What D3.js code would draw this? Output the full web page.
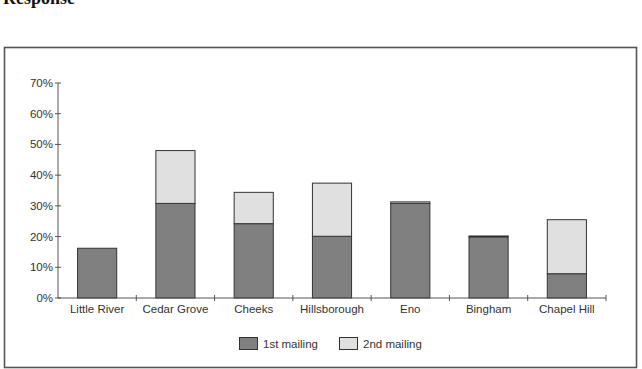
<!DOCTYPE html>
<html><head><meta charset="utf-8">
<script src="https://cdn.jsdelivr.net/npm/d3@7"></script>
<style>body{margin:0;background:#fff;}svg{display:block;}</style>
</head><body>
<script>
const categories = ["Little River","Cedar Grove","Cheeks","Hillsborough","Eno","Bingham","Chapel Hill"];
const firstMailing = [0.162, 0.308, 0.242, 0.201, 0.308, 0.199, 0.079];
const secondMailing = [0.0, 0.172, 0.102, 0.173, 0.005, 0.003, 0.176];
const seriesNames = ["1st mailing","2nd mailing"];
const yTicks = [0,0.1,0.2,0.3,0.4,0.5,0.6,0.7];

const W=642,H=369;
const svg=d3.select("body").append("svg").attr("width",W).attr("height",H);
const font="'Liberation Sans', Arial, sans-serif";
const colors=["#808080","#e0e0e0"];

svg.append("text").attr("x",3).attr("y",4).attr("font-family","'Liberation Serif', 'Times New Roman', serif")
  .attr("font-weight","bold").attr("font-size",18).attr("fill","#111").text("Response");

svg.append("rect").attr("x",4.5).attr("y",47.5).attr("width",632).attr("height",320)
  .attr("fill","none").attr("stroke","#555").attr("stroke-width",1.6);

const x=d3.scaleBand().domain(categories).range([58,606]).paddingInner(0.5).paddingOuter(0.25);
const y=d3.scaleLinear().domain([0,0.7]).range([298,83]);

const data=categories.map((c,i)=>({c,a:firstMailing[i],b:secondMailing[i]}));
const stack=d3.stack().keys(["a","b"])(data);

stack.forEach((layer,li)=>{
  svg.append("g").selectAll("rect").data(layer).join("rect")
    .attr("x",d=>x(d.data.c)).attr("width",x.bandwidth())
    .attr("y",d=>y(d[1])).attr("height",d=>Math.max(0,y(d[0])-y(d[1])))
    .attr("fill",colors[li]).attr("stroke","#333").attr("stroke-width",1);
});

// y axis
const yg=svg.append("g").attr("transform","translate(58,0)");
yg.append("line").attr("x1",0).attr("x2",0).attr("y1",y(0)).attr("y2",y(0.7)).attr("stroke","#555");
yTicks.forEach(t=>{
  yg.append("line").attr("x1",-3).attr("x2",3).attr("y1",y(t)).attr("y2",y(t)).attr("stroke","#555");
  yg.append("text").attr("x",-5).attr("y",y(t)).attr("dy","0.35em").attr("text-anchor","end")
    .attr("font-family",font).attr("font-size",11.5).attr("fill","#333").text(d3.format(".0%")(t));
});

// x axis
const xg=svg.append("g");
const step=x.step();
xg.append("line").attr("x1",58).attr("x2",606).attr("y1",y(0)).attr("y2",y(0)).attr("stroke","#555");
categories.forEach((c,i)=>{
  const bx=x(c)-step*0.25+step;
  xg.append("line").attr("x1",bx).attr("x2",bx).attr("y1",y(0)-3).attr("y2",y(0)+3).attr("stroke","#555");
  xg.append("text").attr("x",x(c)+x.bandwidth()/2).attr("y",313).attr("text-anchor","middle")
    .attr("font-family",font).attr("font-size",11.5).attr("fill","#333").text(c);
});

// legend
const lx=[239,339];
seriesNames.forEach((n,i)=>{
  svg.append("rect").attr("x",lx[i]+0.5).attr("y",337.5).attr("width",18).attr("height",12)
    .attr("fill",colors[i]).attr("stroke","#333").attr("stroke-width",1);
  svg.append("text").attr("x",lx[i]+24).attr("y",343.5).attr("dy","0.35em")
    .attr("font-family",font).attr("font-size",11.5).attr("fill","#333").text(n);
});
</script>
</body></html>
